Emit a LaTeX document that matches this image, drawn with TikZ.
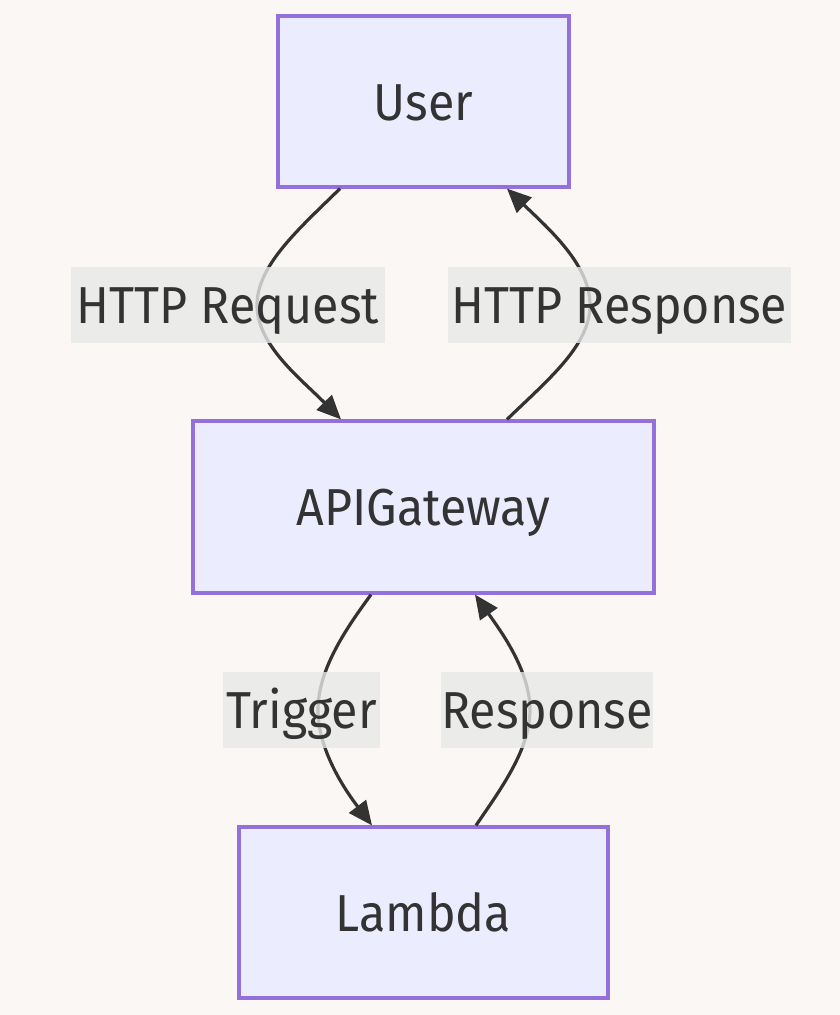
\documentclass[tikz,border=0pt]{standalone}
\usepackage{fontspec}
\setmainfont[FakeStretch=0.93]{Fira Sans}
\usetikzlibrary{arrows.meta,calc}
\definecolor{bgc}{HTML}{FAF7F4}
\definecolor{nodefill}{HTML}{ECECFF}
\definecolor{nodeborder}{HTML}{9370DB}
\definecolor{lblfill}{HTML}{E8E8E8}
\definecolor{ink}{HTML}{333333}
\begin{document}
\begin{tikzpicture}[x=1pt,y=-1pt,
  box/.style={draw=nodeborder,fill=nodefill,line width=3.2pt,minimum height=171pt,
    inner sep=0pt,text=ink,font=\fontsize{52}{60}\selectfont,text height=37pt,text depth=0pt},
  lbl/.style={fill=lblfill,fill opacity=0.8,text opacity=1,inner sep=0pt,minimum height=76pt,
    text=ink,font=\fontsize{52}{60}\selectfont,text height=37pt,text depth=0pt},
  edge/.style={draw=ink,line width=3.2pt,-{Triangle[length=24pt,width=21pt]}}]
\useasboundingbox[fill=bgc] (0,0) rectangle (840,1015);
\node[box,minimum width=291pt] (user) at (423.5,101.5) {User};
\node[box,minimum width=461pt,minimum height=172pt] (api) at (423.5,507) {APIGateway};
\node[box,minimum width=369pt] (lambda) at (423.5,912.5) {Lambda};
% edges
\draw[edge] ($(user.south)+(-83.5,0)$) .. controls (300,228) and (257,265) .. (257,305)
  .. controls (257,345) and (300,378) .. ($(api.north)+(-82.5,0)$);
\draw[edge] ($(api.north)+(83.5,0)$) .. controls (550,378) and (590,345) .. (590,305)
  .. controls (590,265) and (550,230) .. ($(user.south)+(83.5,0)$);
\draw[edge] ($(api.south)+(-52.5,0)$) .. controls (345,630) and (318,670) .. (318,710)
  .. controls (318,750) and (345,790) .. ($(lambda.north)+(-51.5,0)$);
\draw[edge] ($(lambda.north)+(52.5,0)$) .. controls (500,790) and (530,750) .. (530,710)
  .. controls (530,670) and (500,630) .. ($(api.south)+(51.5,0)$);
% labels
\node[lbl,minimum width=314pt] (l1) at (228,305) {HTTP Request};
\node[lbl,minimum width=343pt] (l2) at (619.5,305) {HTTP Response};
\node[lbl,minimum width=157pt] (l3) at (301.5,710) {Trigger};
\node[lbl,minimum width=208pt] (l4) at (547,710) {Response};
\end{tikzpicture}
\end{document}
